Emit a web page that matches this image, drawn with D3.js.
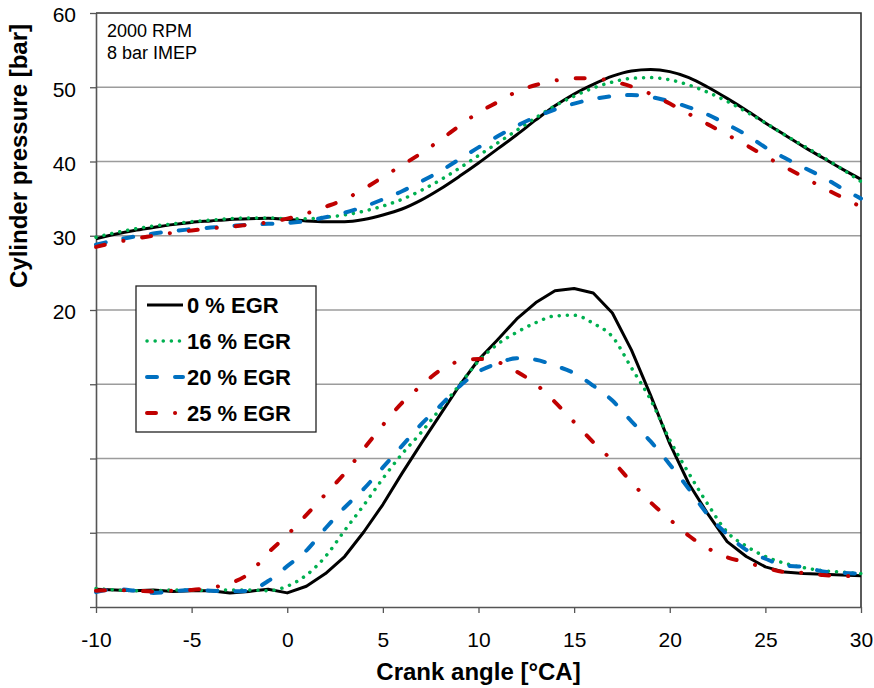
<!DOCTYPE html>
<html>
<head>
<meta charset="utf-8">
<script src="https://cdn.jsdelivr.net/npm/d3@7"></script>
<style>
  body { margin: 0; background: #fff; }
  svg { font-family: "Liberation Sans", Arial, sans-serif; }
</style>
</head>
<body>
<div id="chart"></div>
<script>
// crank angle samples [°CA]
var crankAngle = [-10, -9, -8, -7, -6, -5, -4, -3, -2, -1, 0, 1, 2, 3, 4, 5, 6, 7, 8, 9, 10,
    11, 12, 13, 14, 15, 16, 17, 18, 19, 20, 21, 22, 23, 24, 25, 26, 27, 28, 29, 30];

// cylinder pressure [bar]
var p0 = [29.6, 30.2, 30.7, 31.1, 31.5, 31.8, 32.0, 32.2, 32.3, 32.35, 32.2, 32.0, 31.9, 31.9, 32.2, 32.8, 33.6, 34.8, 36.3, 38.0, 39.8,
    41.7, 43.6, 45.6, 47.5, 49.1, 50.4, 51.5, 52.2, 52.4, 52.1, 51.3, 50.0, 48.5, 46.9, 45.2, 43.6, 42.0, 40.5, 39.0, 37.6];
var p16 = [29.8, 30.4, 30.9, 31.3, 31.6, 31.9, 32.1, 32.3, 32.4, 32.4, 32.3, 32.3, 32.5, 32.8, 33.3, 34.0, 34.9, 36.1, 37.5, 39.1, 40.8,
    42.5, 44.2, 45.9, 47.5, 48.8, 49.9, 50.7, 51.2, 51.3, 51.0, 50.3, 49.3, 48.1, 46.7, 45.2, 43.6, 42.1, 40.6, 39.0, 37.3];
var p20 = [28.8, 29.4, 29.9, 30.3, 30.6, 30.9, 31.1, 31.3, 31.5, 31.6, 31.7, 32.0, 32.5, 33.1, 33.9, 34.9, 36.0, 37.3, 38.7, 40.3, 41.9,
    43.4, 44.8, 46.0, 47.0, 47.8, 48.4, 48.8, 48.95, 48.7, 48.1, 47.3, 46.3, 45.0, 43.6, 41.9, 40.5, 39.2, 37.9, 36.4, 35.0];
var p25 = [28.5, 29.1, 29.6, 30.0, 30.4, 30.7, 31.0, 31.2, 31.5, 31.8, 32.3, 33.0, 33.9, 34.9, 36.3, 37.9, 39.5, 41.1, 42.9, 44.8, 46.6,
    48.0, 49.4, 50.3, 50.9, 51.2, 51.2, 50.8, 50.1, 49.1, 47.8, 46.4, 45.0, 43.6, 42.2, 40.7, 39.3, 37.9, 36.5, 35.2, 33.9];

// heat release curves, drawn on the same (unlabelled lower) part of the axis
var hrr0 = [-17.6, -17.7, -17.8, -17.7, -17.9, -17.8, -17.8, -18.1, -17.9, -17.6, -18.1, -17.2, -15.5, -13.2, -9.9, -6.2, -2.0, 2.0, 5.9, 9.8, 13.3,
    16.0, 18.8, 21.0, 22.6, 22.9, 22.3, 19.6, 14.6, 8.5, 2.0, -3.4, -7.5, -11.2, -13.2, -14.6, -15.3, -15.5, -15.6, -15.7, -15.8];
var hrr16 = [-17.5, -17.7, -17.8, -17.8, -17.7, -17.7, -17.8, -17.7, -17.7, -17.8, -17.2, -15.7, -13.2, -9.7, -6.3, -2.7, 0.6, 3.5, 6.7, 9.9, 13.1,
    15.4, 17.0, 18.3, 19.2, 19.3, 18.2, 16.4, 12.2, 7.9, 2.5, -2.0, -6.2, -9.9, -11.8, -13.2, -14.1, -14.7, -15.1, -15.3, -15.5];
var hrr20 = [-18.0, -17.6, -17.8, -18.1, -17.9, -17.7, -17.8, -17.9, -17.8, -16.5, -14.5, -12.4, -9.4, -6.6, -4.1, -1.2, 1.7, 4.6, 7.1, 9.7, 11.7,
    12.8, 13.5, 13.3, 12.5, 11.5, 9.8, 7.8, 5.0, 2.3, -0.8, -4.1, -7.6, -10.2, -12.3, -13.5, -14.4, -14.6, -15.2, -15.4, -15.5];
var hrr25 = [-17.8, -17.7, -17.8, -17.9, -17.8, -17.7, -17.4, -16.8, -15.5, -12.7, -10.3, -7.6, -4.8, -2.0, 1.3, 4.5, 7.5, 9.8, 11.9, 13.1, 13.4,
    13.0, 11.7, 10.0, 7.6, 4.9, 2.2, -0.3, -3.2, -5.9, -8.2, -10.4, -12.1, -13.3, -14.0, -14.7, -15.3, -15.4, -15.7, -15.8, -15.9];

var seriesNames = ["0 % EGR", "16 % EGR", "20 % EGR", "25 % EGR"];
var xTicks = [-10, -5, 0, 5, 10, 15, 20, 25, 30];
var yTicks = [-20, -10, 0, 10, 20, 30, 40, 50, 60];
var yLabelled = [20, 30, 40, 50, 60];

var colors = ["#000000", "#00b050", "#0070c0", "#c00000"];
var widths = [3, 3.5, 4, 4];
var dashes = ["none", "0.1 8", "10 18", "9 19 0.1 19"];

var margin = { top: 13, right: 13, bottom: 81, left: 96 },
    width = 874 - margin.left - margin.right,
    height = 688 - margin.top - margin.bottom;

var svg = d3.select("#chart")
    .append("svg")
    .attr("width", width + margin.left + margin.right)
    .attr("height", height + margin.top + margin.bottom);

var g = svg.append("g")
    .attr("transform", "translate(" + margin.left + "," + margin.top + ")");

var x = d3.scaleLinear().domain([-10, 30]).range([0, width]);
var y = d3.scaleLinear().domain([-20, 60]).range([height, 0]);

// gridlines
g.selectAll(".grid")
    .data(yTicks.filter(function (d) { return d > -20 && d < 60; }))
    .enter()
    .append("line")
    .attr("x1", 0)
    .attr("x2", width)
    .attr("y1", function (d) { return y(d); })
    .attr("y2", function (d) { return y(d); })
    .attr("stroke", "#9c9c9c")
    .attr("stroke-width", 1.3);

// axes
var yAxis = g.append("g")
    .call(d3.axisLeft(y).tickValues(yTicks).tickSize(6).tickSizeOuter(0).tickPadding(14)
        .tickFormat(function (d) { return yLabelled.indexOf(d) >= 0 ? String(d) : ""; }));
var xAxis = g.append("g")
    .attr("transform", "translate(0," + height + ")")
    .call(d3.axisBottom(x).tickValues(xTicks).tickSize(6).tickSizeOuter(0).tickPadding(19)
        .tickFormat(function (d) { return String(d); }));

[xAxis, yAxis].forEach(function (a) {
    a.select(".domain").attr("stroke", "#555").attr("stroke-width", 1.6);
    a.selectAll(".tick line").attr("stroke", "#555").attr("stroke-width", 1.3);
    a.selectAll(".tick text").attr("fill", "#000").style("font-size", "21px")
        .style("font-family", "'Liberation Sans', Arial, sans-serif");
});
yAxis.selectAll(".tick text").attr("dy", "0.42em");

// plot border (top/right)
g.append("path")
    .attr("d", "M0,0H" + width + "V" + height)
    .attr("fill", "none")
    .attr("stroke", "#333")
    .attr("stroke-width", 1.6);

// curves
var pressure = [p0, p16, p20, p25];
var hrr = [hrr0, hrr16, hrr20, hrr25];

var linePressure = d3.line()
    .x(function (d, i) { return x(crankAngle[i]); })
    .y(function (d) { return y(d); })
    .curve(d3.curveMonotoneX);
var lineHrr = d3.line()
    .x(function (d, i) { return x(crankAngle[i]); })
    .y(function (d) { return y(d); })
    .curve(d3.curveMonotoneX);

[0, 1, 2, 3].forEach(function (k) {
    g.append("path")
        .datum(pressure[k])
        .attr("fill", "none")
        .attr("stroke", colors[k])
        .attr("stroke-width", widths[k])
        .attr("stroke-linecap", k === 0 ? "butt" : "round")
        .attr("stroke-linejoin", "round")
        .attr("stroke-dasharray", dashes[k])
        .attr("d", linePressure);
    g.append("path")
        .datum(hrr[k])
        .attr("fill", "none")
        .attr("stroke", colors[k])
        .attr("stroke-width", widths[k])
        .attr("stroke-linecap", k === 0 ? "butt" : "round")
        .attr("stroke-linejoin", "round")
        .attr("stroke-dasharray", dashes[k])
        .attr("d", k === 0 ? lineHrr.curve(d3.curveLinear) : lineHrr.curve(d3.curveMonotoneX));
});

// operating point note
svg.append("text").attr("x", 107).attr("y", 37).style("font-size", "18px").text("2000 RPM");
svg.append("text").attr("x", 107).attr("y", 59).style("font-size", "18px").text("8 bar IMEP");

// axis titles
svg.append("text")
    .attr("x", margin.left + width / 2)
    .attr("y", 680)
    .attr("text-anchor", "middle")
    .style("font-size", "24px")
    .style("font-weight", "bold")
    .text("Crank angle [°CA]");

svg.append("text")
    .attr("transform", "translate(27," + 156 + ") rotate(-90)")
    .attr("text-anchor", "middle")
    .style("font-size", "24px")
    .style("font-weight", "bold")
    .text("Cylinder pressure [bar]");

// legend
var legend = svg.append("g").attr("transform", "translate(136,286)");
legend.append("rect")
    .attr("width", 180)
    .attr("height", 146)
    .attr("fill", "#fff")
    .attr("stroke", "#222")
    .attr("stroke-width", 1.3);

legend.selectAll("legline")
    .data(seriesNames)
    .enter()
    .append("line")
    .attr("x1", 11)
    .attr("x2", 47)
    .attr("y1", function (d, i) { return 19 + i * 36; })
    .attr("y2", function (d, i) { return 19 + i * 36; })
    .attr("stroke", function (d, i) { return colors[i]; })
    .attr("stroke-width", function (d, i) { return widths[i]; })
    .attr("stroke-linecap", function (d, i) { return i === 0 ? "butt" : "round"; })
    .attr("stroke-dasharray", function (d, i) { return dashes[i]; });

legend.selectAll("leglabel")
    .data(seriesNames)
    .enter()
    .append("text")
    .attr("x", 51)
    .attr("y", function (d, i) { return 19 + i * 36; })
    .attr("dy", "0.36em")
    .style("font-size", "22px")
    .style("font-weight", "bold")
    .text(function (d) { return d; });
</script>
</body>
</html>
